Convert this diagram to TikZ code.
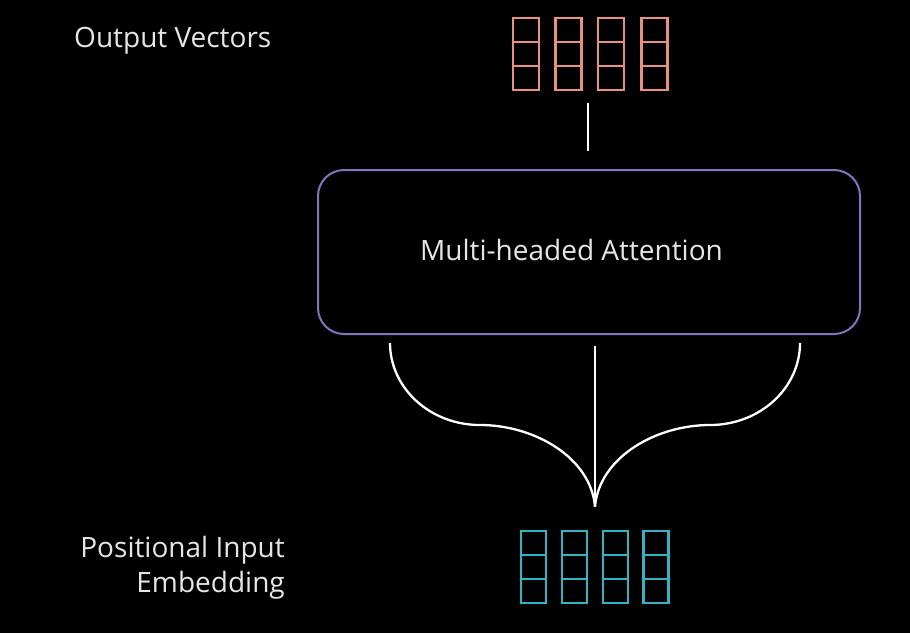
\documentclass[tikz,border=0pt]{standalone}
\usepackage{fontspec}
\setmainfont{Open Sans}
\definecolor{bg}{HTML}{000000}
\definecolor{txt}{HTML}{E6E6E6}
\definecolor{boxc}{HTML}{7E77BD}
\definecolor{outc}{HTML}{E8917E}
\definecolor{inc}{HTML}{33B4C4}
\tikzset{
  lbl/.style={text=txt, font=\fontsize{28}{35}\selectfont, inner sep=0pt},
  mhabox/.style={draw=boxc, line width=2pt, rounded corners=26pt, minimum width=542pt, minimum height=164pt, inner sep=0pt},
  grp/.style={minimum width=154pt, minimum height=72pt, inner sep=0pt},
  conn/.style={draw=white, line width=2.6pt},
  fork/.style={draw=white, line width=2.3pt},
  cell/.style={line width=2.2pt}
}
\begin{document}
\begin{tikzpicture}[x=1pt,y=-1pt]
\useasboundingbox (0,0) rectangle (910,633);
\fill[bg] (0,0) rectangle (910,633);

% labels
\node[lbl, anchor=base west] (outlbl) at (74,47) {Output Vectors};
\node[lbl, anchor=north east, align=right] (inlbl) at (285,536) {Positional Input\\Embedding};

% box
\node[mhabox] (mha) at (589,252) {};
\node[lbl, anchor=base] (mhat) at (571.5,260) {Multi-headed Attention};

% vector groups
\node[grp] (outv) at (590,54) {};
\node[grp] (inv) at (595,567) {};
\foreach \cx in {526,568.5,611,654.5}{
  \draw[cell, draw=outc] (\cx-13,18) rectangle (\cx+13,90);
  \draw[cell, draw=outc] (\cx-13,42) -- (\cx+13,42);
  \draw[cell, draw=outc] (\cx-13,66) -- (\cx+13,66);
}
\foreach \cx in {533.5,574.5,615.5,656}{
  \draw[cell, draw=inc] (\cx-12.5,531) rectangle (\cx+12.5,603);
  \draw[cell, draw=inc] (\cx-12.5,555) -- (\cx+12.5,555);
  \draw[cell, draw=inc] (\cx-12.5,579) -- (\cx+12.5,579);
}

% connector top
\draw[conn] ([xshift=-2pt,yshift=-13pt]outv.south) -- ([xshift=-1pt,yshift=18pt]mha.north);

% fork
\coordinate (tip) at ([yshift=24pt]inv.north);
\coordinate (fl) at ([xshift=-199pt,yshift=-8pt]mha.south);
\coordinate (fc) at ([xshift=6pt,yshift=-11pt]mha.south);
\coordinate (fr) at ([xshift=211pt,yshift=-8pt]mha.south);
\draw[fork] (fl) .. controls (390,388) and (430,425) .. (480,425)
  .. controls (535,425) and (591,458) .. (tip);
\draw[fork] (fr) .. controls (800,388) and (760,425) .. (710,425)
  .. controls (655,425) and (599,458) .. (tip);
\draw[fork] (fc) -- (tip);
\end{tikzpicture}
\end{document}
